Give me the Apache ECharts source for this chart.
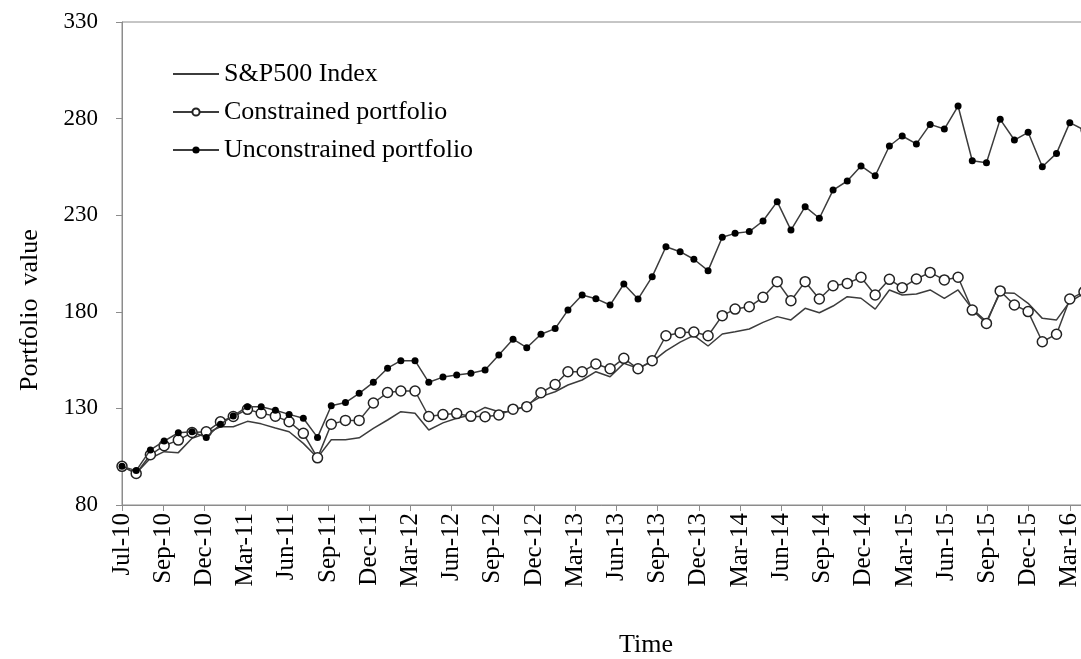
<!DOCTYPE html>
<html>
<head>
<meta charset="utf-8">
<script src="https://cdn.jsdelivr.net/npm/echarts@6/dist/echarts.min.js"></script>
<style>
html,body{margin:0;padding:0;background:#fff;}
#chart{width:1081px;height:659px;}
</style>
</head>
<body>
<div id="chart"></div>
<script>
// Monthly observation dates (first of month)
const months = ['2010-07','2010-08','2010-09','2010-10','2010-11','2010-12',
'2011-01','2011-02','2011-03','2011-04','2011-05','2011-06','2011-07','2011-08','2011-09','2011-10','2011-11','2011-12',
'2012-01','2012-02','2012-03','2012-04','2012-05','2012-06','2012-07','2012-08','2012-09','2012-10','2012-11','2012-12',
'2013-01','2013-02','2013-03','2013-04','2013-05','2013-06','2013-07','2013-08','2013-09','2013-10','2013-11','2013-12',
'2014-01','2014-02','2014-03','2014-04','2014-05','2014-06','2014-07','2014-08','2014-09','2014-10','2014-11','2014-12',
'2015-01','2015-02','2015-03','2015-04','2015-05','2015-06','2015-07','2015-08','2015-09','2015-10','2015-11','2015-12',
'2016-01','2016-02','2016-03','2016-04'];

const sp500 = [100,96.5,104.2,107.6,107.1,114.5,117.1,120.5,120.5,123.3,122,119.9,117.9,111.9,104.5,113.8,113.8,114.8,119.7,124,
128.3,127.5,118.8,122.5,124.9,126.6,130.5,128.3,128.3,131.8,136.1,138.6,142.1,144.7,149,146.4,153.3,150.8,154.2,159.8,
164.3,167.8,162.3,168.5,169.7,171.1,174.5,177.5,175.8,181.8,179.5,183,187.8,187,181.4,191.3,188.7,189.2,191.3,187,
191.3,181.5,175,189.9,189.6,184.4,176.6,175.8,185.2,189.6];

const constrained = [100,96.3,106,110.7,113.6,117.5,117.9,123.1,125.8,129.5,127.5,126,123.1,117.1,104.4,121.8,123.8,123.8,132.8,138.2,
139,139,125.8,126.8,127.3,125.9,125.7,126.6,129.6,130.9,138.1,142.4,149,149,153,150.5,155.9,150.5,154.7,167.6,
169.2,169.5,167.6,178,181.4,182.6,187.5,195.6,185.7,195.6,186.6,193.5,194.7,197.9,188.7,196.8,192.5,197,200.4,196.5,
197.9,180.9,174,190.8,183.5,180.1,164.5,168.4,186.6,190.4];

const unconstrained = [100,97.8,108.5,113.1,117.4,117.9,115,121.8,126.1,130.9,130.9,129,126.9,124.9,115,131.4,133,137.8,143.5,150.8,
154.7,154.7,143.5,146.2,147.3,148.2,149.9,157.6,165.8,161.4,168.4,171.3,180.9,188.7,186.8,183.5,194.4,186.6,198.2,213.7,
211.1,207.2,201.3,218.6,220.6,221.5,227,237,222.3,234.4,228.4,243,247.7,255.5,250.4,265.8,271,266.9,277,274.6,
286.5,258.2,257.2,279.6,268.9,272.9,255.1,262,277.9,274.1];

const seriesNames = ['S&P500 Index','Constrained portfolio','Unconstrained portfolio'];
const yTicks = [80,130,180,230,280,330];
const monthNames = ['Jan','Feb','Mar','Apr','May','Jun','Jul','Aug','Sep','Oct','Nov','Dec'];
const axisStart = '2010-07-01';   // first tick of the date axis
const tickDays = 90;              // spacing of the date-axis ticks (days)

const DAY = 86400000;
const t0 = Date.parse(axisStart + 'T00:00:00Z');
function dayOf(m){ return Math.round((Date.parse(m + '-01T00:00:00Z') - t0) / DAY); }
function fmt(v){
  const d = new Date(t0 + v * DAY);
  return monthNames[d.getUTCMonth()] + '-' + String(d.getUTCFullYear() % 100).padStart(2,'0');
}
function pts(vals){ return months.map((m,i)=>[dayOf(m), vals[i]]); }

const FONT = '"Liberation Serif", "Times New Roman", serif';
const LINE = '#3c3c3c';
const AXIS = '#8c8c8c';

const chart = echarts.init(document.getElementById('chart'), null, {renderer:'canvas'});
chart.setOption({
  animation:false,
  backgroundColor:'#fff',
  grid:{left:122, top:22, bottom:154, right:-30, outerBoundsMode:'none', containLabel:false,
        show:true, borderColor:AXIS, borderWidth:1, backgroundColor:'transparent'},
  legend:{
    orient:'vertical', left:167, top:55, itemWidth:46, itemHeight:9, itemGap:10,
    textStyle:{fontFamily:FONT, fontSize:26, color:'#000', lineHeight:28},
    data:[{name:seriesNames[0], itemStyle:{opacity:0}}, seriesNames[1], seriesNames[2]]
  },
  xAxis:{
    type:'value', min:0, max:tickDays*24, interval:tickDays,
    axisLine:{show:true, lineStyle:{color:AXIS, width:1}},
    axisTick:{show:true, length:6, lineStyle:{color:AXIS}},
    splitLine:{show:false},
    axisLabel:{rotate:90, margin:8, fontFamily:FONT, fontSize:25, color:'#000', formatter:fmt, hideOverlap:false}
  },
  yAxis:{
    type:'value', min:yTicks[0], max:yTicks[yTicks.length-1], interval:yTicks[1]-yTicks[0],
    axisLine:{show:true, lineStyle:{color:AXIS, width:1}},
    axisTick:{show:true, length:6, lineStyle:{color:AXIS}},
    splitLine:{show:false},
    axisLabel:{margin:24, fontFamily:FONT, fontSize:23, color:'#000'}
  },
  graphic:[
    {type:'text', x:30, y:310, rotation:Math.PI/2,
     style:{text:'Portfolio  value', font:'26px ' + FONT, fill:'#000', align:'center', verticalAlign:'middle'}},
    {type:'text', x:646, y:645,
     style:{text:'Time', font:'26px ' + FONT, fill:'#000', align:'center', verticalAlign:'middle'}}
  ],
  series:[
    {name:seriesNames[0], type:'line', data:pts(sp500), showSymbol:false, symbol:'none',
     lineStyle:{color:LINE, width:1.5}, itemStyle:{color:LINE}, z:2},
    {name:seriesNames[1], type:'line', data:pts(constrained), symbol:'circle', symbolSize:10, showAllSymbol:true,
     lineStyle:{color:LINE, width:1.5}, itemStyle:{color:'#fff', borderColor:'#222', borderWidth:1.5}, z:3},
    {name:seriesNames[2], type:'line', data:pts(unconstrained), symbol:'circle', symbolSize:7, showAllSymbol:true,
     lineStyle:{color:LINE, width:1.5}, itemStyle:{color:'#000', borderColor:'#000', borderWidth:0}, z:4}
  ]
});
</script>
</body>
</html>
